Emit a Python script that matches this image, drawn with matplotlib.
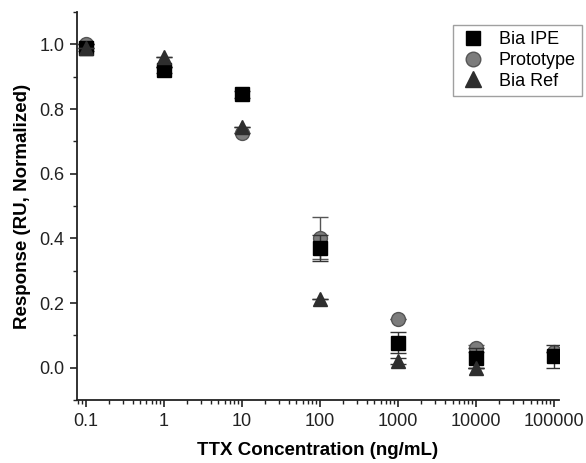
import numpy as np
import matplotlib
matplotlib.use("Agg")
import matplotlib.pyplot as plt
from matplotlib.ticker import FixedLocator, FuncFormatter, LogLocator, MultipleLocator, NullFormatter

plt.rcParams['font.family'] = ['Liberation Sans', 'DejaVu Sans']

# concentrations (ng/mL)
conc = [0.1, 1, 10, 100, 1000, 10000, 100000]

# Bia IPE (square)
ipe = [0.99, 0.92, 0.845, 0.37, 0.077, 0.03, 0.035]
ipe_err = [0.01, 0.01, 0.01, 0.04, 0.033, 0.03, 0.035]

# Prototype (circle)
proto = [1.0, 0.93, 0.725, 0.40, 0.15, 0.06, 0.05]
proto_err = [0.0, 0.0, 0.0, 0.065, 0.0, 0.01, 0.0]

# Bia Ref (triangle), no value at 100000
ref_conc = [0.1, 1, 10, 100, 1000, 10000]
ref = [0.99, 0.96, 0.745, 0.213, 0.02, 0.0]
ref_err = [0.0, 0.0, 0.0, 0.0, 0.01, 0.0]

fig = plt.figure(figsize=(5.86, 4.63), dpi=100)
ax = fig.add_axes([0.131, 0.136, 0.823, 0.838])

e1 = ax.errorbar(conc, ipe, yerr=ipe_err, fmt='s', color='#000000', ms=9.5,
                 ecolor='#333333', elinewidth=1, capsize=5.5, zorder=3)
e2 = ax.errorbar(conc, proto, yerr=proto_err, fmt='o', color='#7c7c7c', mec='#555555', ms=10,
                 ecolor='#555555', elinewidth=1, capsize=5.5, zorder=2)
e3 = ax.errorbar(ref_conc, ref, yerr=ref_err, fmt='^', color='#2e2e2e', ms=10.5,
                 ecolor='#333333', elinewidth=1, capsize=5.5, zorder=4)

ax.set_xscale('log')
ax.set_xlim(10 ** -1.115, 10 ** 5.064)
ax.set_ylim(-0.1, 1.1)

ax.xaxis.set_major_locator(FixedLocator(conc))
ax.xaxis.set_major_formatter(FuncFormatter(lambda v, p: ('%g' % v) if v < 1 else '%d' % round(v)))
ax.xaxis.set_minor_locator(LogLocator(base=10, subs=np.arange(2, 10)))
ax.xaxis.set_minor_formatter(NullFormatter())

ax.yaxis.set_major_locator(FixedLocator([0.0, 0.2, 0.4, 0.6, 0.8, 1.0]))
ax.yaxis.set_major_formatter(FuncFormatter(lambda v, p: '%.1f' % v))
ax.yaxis.set_minor_locator(MultipleLocator(0.1))

for s in ['top', 'right']:
    ax.spines[s].set_visible(False)
for s in ['left', 'bottom']:
    ax.spines[s].set_linewidth(1.3)
    ax.spines[s].set_color('#222222')

ax.tick_params(which='major', direction='out', length=5, width=1.2, labelsize=13,
               colors='#222222', pad=4)
ax.tick_params(which='minor', direction='out', length=3, width=1.0, colors='#222222')

ax.set_xlabel('TTX Concentration (ng/mL)', fontsize=13.5, fontweight='bold', labelpad=9)
ax.set_ylabel('Response (RU, Normalized)', fontsize=13.5, fontweight='bold', labelpad=6)

leg = ax.legend([e1[0], e2[0], e3[0]], ['Bia IPE', 'Prototype', 'Bia Ref'],
                loc='upper right', bbox_to_anchor=(0.993, 0.946), bbox_transform=fig.transFigure,
                borderaxespad=0, fontsize=13, frameon=True, fancybox=False, handletextpad=0.6,
                borderpad=0.35, labelspacing=0.2, handlelength=1.6, markerscale=1.05)
leg.get_frame().set_edgecolor('#888888')
leg.get_frame().set_linewidth(1.0)

fig.savefig('out.png', dpi=100)
